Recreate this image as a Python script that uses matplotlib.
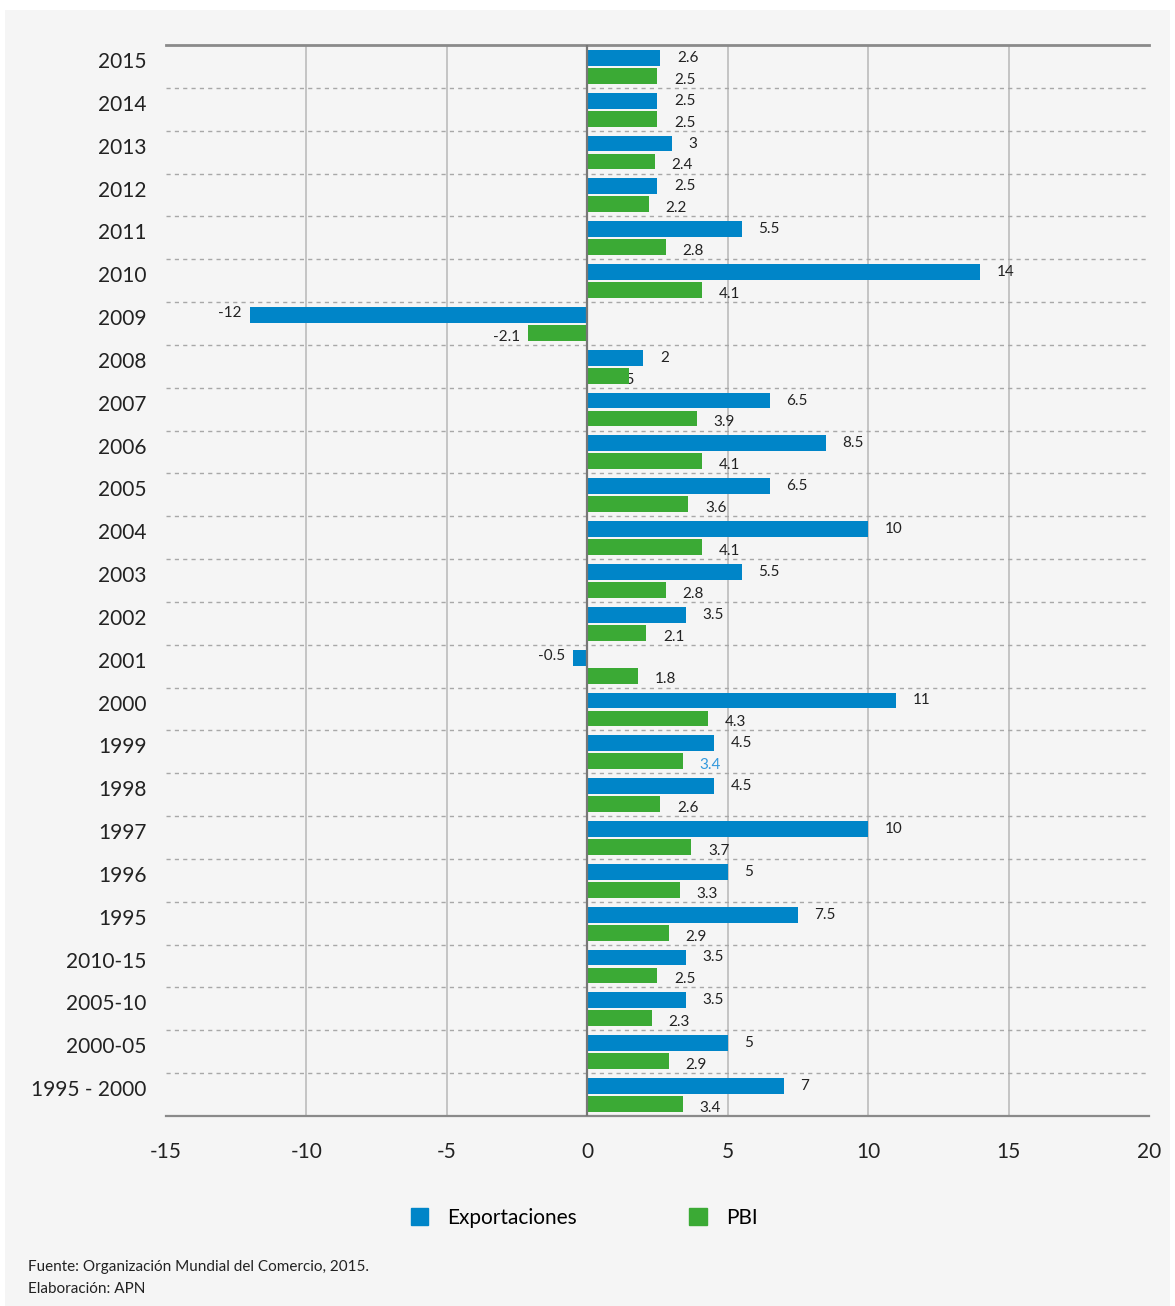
import matplotlib
matplotlib.use('Agg')
import matplotlib.pyplot as plt
from matplotlib.patches import Rectangle, Patch

plt.rcParams['font.family'] = ['Lato', 'DejaVu Sans']
plt.rcParams['axes.unicode_minus'] = False

categorias = ['2015', '2014', '2013', '2012', '2011', '2010', '2009', '2008', '2007',
              '2006', '2005', '2004', '2003', '2002', '2001', '2000', '1999', '1998',
              '1997', '1996', '1995', '2010-15', '2005-10', '2000-05', '1995 - 2000']
exportaciones = [2.6, 2.5, 3, 2.5, 5.5, 14, -12, 2, 6.5, 8.5, 6.5, 10, 5.5, 3.5, -0.5,
                 11, 4.5, 4.5, 10, 5, 7.5, 3.5, 3.5, 5, 7]
pbi = [2.5, 2.5, 2.4, 2.2, 2.8, 4.1, -2.1, 1.5, 3.9, 4.1, 3.6, 4.1, 2.8, 2.1, 1.8,
       4.3, 3.4, 2.6, 3.7, 3.3, 2.9, 2.5, 2.3, 2.9, 3.4]

azul = '#0085C8'
verde = '#3BAA35'
fondo = '#F5F5F5'

fig = plt.figure(figsize=(11.75, 13.06), dpi=100)
fig.patch.set_facecolor('white')
fig.patches.append(Rectangle((5 / 1175, 0), 1165 / 1175, 1 - 10 / 1306,
                             transform=fig.transFigure, facecolor=fondo,
                             edgecolor='none', zorder=-5))

ax = fig.add_axes([166 / 1175, 1 - 1116 / 1306, (1149 - 166) / 1175, (1116 - 45) / 1306])
ax.set_facecolor(fondo)

pos = list(range(len(categorias)))
h = 0.37
ax.barh([p - 0.2 for p in pos], exportaciones, height=h, color=azul, zorder=3)
ax.barh([p + 0.22 for p in pos], pbi, height=h, color=verde, zorder=3)

# etiquetas de valores
for i, (e, g) in enumerate(zip(exportaciones, pbi)):
    if e >= 0:
        ax.annotate('%g' % e, (e, i - 0.2), xytext=(12, 0), textcoords='offset points',
                    ha='left', va='center', fontsize=11, color='#222222', zorder=4)
    else:
        ax.annotate('%g' % e, (e, i - 0.24), xytext=(-6, 0), textcoords='offset points',
                    ha='right', va='center', fontsize=11, color='#222222', zorder=4)
    col = '#3399DD' if categorias[i] == '1999' else '#222222'
    if categorias[i] == '2008':
        # etiqueta tapada por la barra en el original
        ax.annotate('%g' % g, (g, i + 0.31), xytext=(4, 0), textcoords='offset points',
                    ha='right', va='center', fontsize=11, color='#222222', zorder=2)
    elif g >= 0:
        ax.annotate('%g' % g, (g, i + 0.31), xytext=(12, 0), textcoords='offset points',
                    ha='left', va='center', fontsize=11, color=col, zorder=4)
    else:
        ax.annotate('%g' % g, (g, i + 0.31), xytext=(-6, 0), textcoords='offset points',
                    ha='right', va='center', fontsize=11, color='#222222', zorder=4)

ax.set_xlim(-15, 20)
ax.set_ylim(len(categorias) - 0.5, -0.5)
ax.set_xticks(range(-15, 21, 5))
ax.set_yticks([p - 0.15 for p in pos])
ax.set_yticklabels(categorias)
ax.tick_params(axis='both', length=0, labelsize=15, colors='#222222')
ax.tick_params(axis='y', pad=14)
ax.tick_params(axis='x', pad=19)

for x in range(-10, 20, 5):
    if x != 0:
        ax.axvline(x, color='#C4C4C4', lw=1.4, zorder=1)
ax.axvline(0, color='#777777', lw=1.6, zorder=4)
for i in range(len(categorias) - 1):
    ax.axhline(i + 0.5, color='#A8A8A8', lw=1, ls=(0, (3, 3)), zorder=1)

for s in ['left', 'right']:
    ax.spines[s].set_visible(False)
ax.spines['top'].set_color('#8A8A8A')
ax.spines['top'].set_linewidth(2)
ax.spines['bottom'].set_color('#8A8A8A')
ax.spines['bottom'].set_linewidth(1.6)

handles = [Patch(color=azul, label='Exportaciones'), Patch(color=verde, label='PBI')]
fig.legend(handles=handles, loc='center', bbox_to_anchor=(0.497, 1 - 1218 / 1306), ncol=2,
           frameon=False, fontsize=15, handlelength=0.85, handleheight=0.85,
           handletextpad=0.9, columnspacing=5.4)

fig.text(28 / 1175, 1 - 1267 / 1306, 'Fuente: Organización Mundial del Comercio, 2015.',
         fontsize=11, color='#222222', va='center')
fig.text(28 / 1175, 1 - 1289 / 1306, 'Elaboración: APN', fontsize=11, color='#222222',
         va='center')

fig.savefig('out.png', dpi=100, facecolor=fig.get_facecolor())
